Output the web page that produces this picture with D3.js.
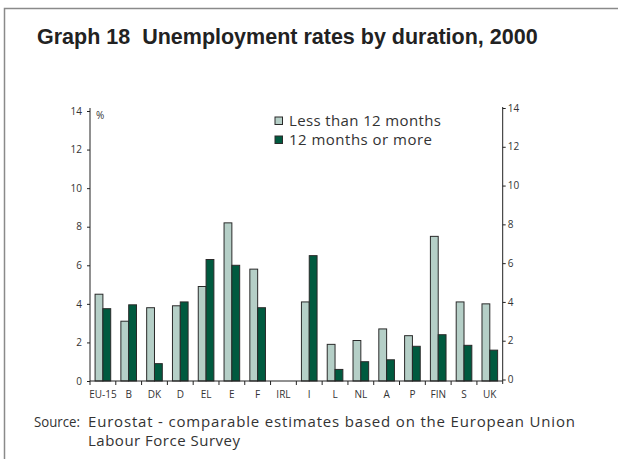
<!DOCTYPE html>
<html><head><meta charset="utf-8">
<script src="https://cdn.jsdelivr.net/npm/d3@7"></script>
<style>
html,body{margin:0;padding:0;background:#fff;}
svg{display:block;}
text{white-space:pre;}
</style></head>
<body><svg id="c" width="618" height="459"></svg>
<script>
const categories = ["EU-15","B","DK","D","EL","E","F","IRL","I","L","NL","A","P","FIN","S","UK"];
const lessThan12 = [4.5,3.1,3.8,3.9,4.9,8.2,5.8,null,4.1,1.9,2.1,2.7,2.35,7.5,4.1,4.0];
const moreThan12 = [3.75,3.95,0.9,4.1,6.3,6.0,3.8,null,6.5,0.6,1.0,1.1,1.8,2.4,1.85,1.6];
const seriesNames = ["Less than 12 months","12 months or more"];
const yTicks = [0,2,4,6,8,10,12,14];

const colors = ["#b5cfc7","#005a3f"];
const bodyFont = "'Open Sans', sans-serif";
const svg = d3.select("#c");

function fitText(sel, target){
  const w = sel.node().getComputedTextLength();
  const fs = parseFloat(sel.attr("font-size"));
  sel.attr("font-size", fs*target/w);
  return sel;
}
function spreadText(sel, target){
  const w = sel.node().getComputedTextLength();
  if (w < target) sel.attr("textLength", target).attr("lengthAdjust","spacing");
  return sel;
}

// frame
svg.append("path").attr("d","M4.5,459 V8.5 H618").attr("fill","none").attr("stroke","#8a8a8a").attr("stroke-width",1.5);

fitText(svg.append("text").attr("x",37).attr("y",44).attr("font-family","'Liberation Sans', Arial, sans-serif")
  .attr("font-weight","bold").attr("font-size",16.5).attr("fill","#222")
  .text("Graph 18  Unemployment rates by duration, 2000"), 501);

const x0 = d3.scaleBand().domain(categories).range([90,502.7]).padding(0);
const x1 = d3.scaleBand().domain([0,1]).range([0,x0.bandwidth()]).paddingOuter(0.65).paddingInner(0);
const y = d3.scaleLinear().domain([0,14]).range([381,111]);
const yR = d3.scaleLinear().domain([0,14]).range([379.5,108]);

// bars
const g = svg.append("g");
categories.forEach((c,i)=>{
  [lessThan12[i], moreThan12[i]].forEach((v,s)=>{
    if(v==null) return;
    g.append("rect").attr("x",x0(c)+x1(s)).attr("y",y(v)).attr("width",x1.bandwidth()).attr("height",y(0)-y(v))
     .attr("fill",colors[s]).attr("stroke","#2a2a2a").attr("stroke-width",1);
  });
});

// left axis
const la = svg.append("g").attr("transform","translate(90,0)")
  .call(d3.axisLeft(y).tickValues(yTicks).tickSize(3).tickPadding(5).tickFormat(d3.format("d")));
la.select(".domain").attr("stroke","#222").attr("d","M-0,381V108");
la.selectAll("text").attr("font-family",bodyFont).attr("font-size",10).attr("fill","#333");
la.selectAll("line").attr("stroke","#222");

// right axis
const ra = svg.append("g").attr("transform","translate(502.7,0)")
  .call(d3.axisRight(yR).tickValues(yTicks).tickSize(3).tickPadding(2).tickFormat(d3.format("d")));
ra.select(".domain").attr("stroke","#222").attr("d","M0,384V107");
ra.selectAll("text").attr("font-family",bodyFont).attr("font-size",10).attr("fill","#333");
ra.selectAll("line").attr("stroke","#222");

// x axis
const xa = svg.append("g").attr("transform","translate(0,381)");
xa.append("line").attr("x1",90).attr("x2",502.7).attr("stroke","#222");
categories.forEach(c=>{
  xa.append("line").attr("x1",x0(c)).attr("x2",x0(c)).attr("y1",0).attr("y2",4).attr("stroke","#222");
  xa.append("text").attr("x",x0(c)+x0.bandwidth()/2).attr("y",17).attr("text-anchor","middle")
    .attr("font-family",bodyFont).attr("font-size",10).attr("fill","#333").text(c);
});

svg.append("text").attr("x",96).attr("y",119).attr("font-family",bodyFont).attr("font-size",10).attr("fill","#333").text("%");

// legend
seriesNames.forEach((n,i)=>{
  const ly = 121 + i*19;
  svg.append("rect").attr("x",275).attr("y",ly-4).attr("width",7.5).attr("height",7.5)
    .attr("fill",colors[i]).attr("stroke","#2a2a2a").attr("stroke-width",1);
  const t = svg.append("text").attr("x",289).attr("y",ly+5).attr("font-family",bodyFont).attr("font-size",15)
    .attr("fill","#333").text(n);
  spreadText(t, i===0 ? 152 : 143);
});

// source
const fsz = 15;
svg.append("text").attr("x",34).attr("y",427).attr("font-family",bodyFont).attr("font-size",fsz).attr("fill","#333")
  .attr("textLength",46).attr("lengthAdjust","spacingAndGlyphs").text("Source:");
spreadText(svg.append("text").attr("x",88).attr("y",427).attr("font-family",bodyFont).attr("font-size",fsz).attr("fill","#333")
  .text("Eurostat - comparable estimates based on the European Union"), 487);
spreadText(svg.append("text").attr("x",88).attr("y",446).attr("font-family",bodyFont).attr("font-size",fsz).attr("fill","#333")
  .text("Labour Force Survey"), 152);
</script></body></html>
